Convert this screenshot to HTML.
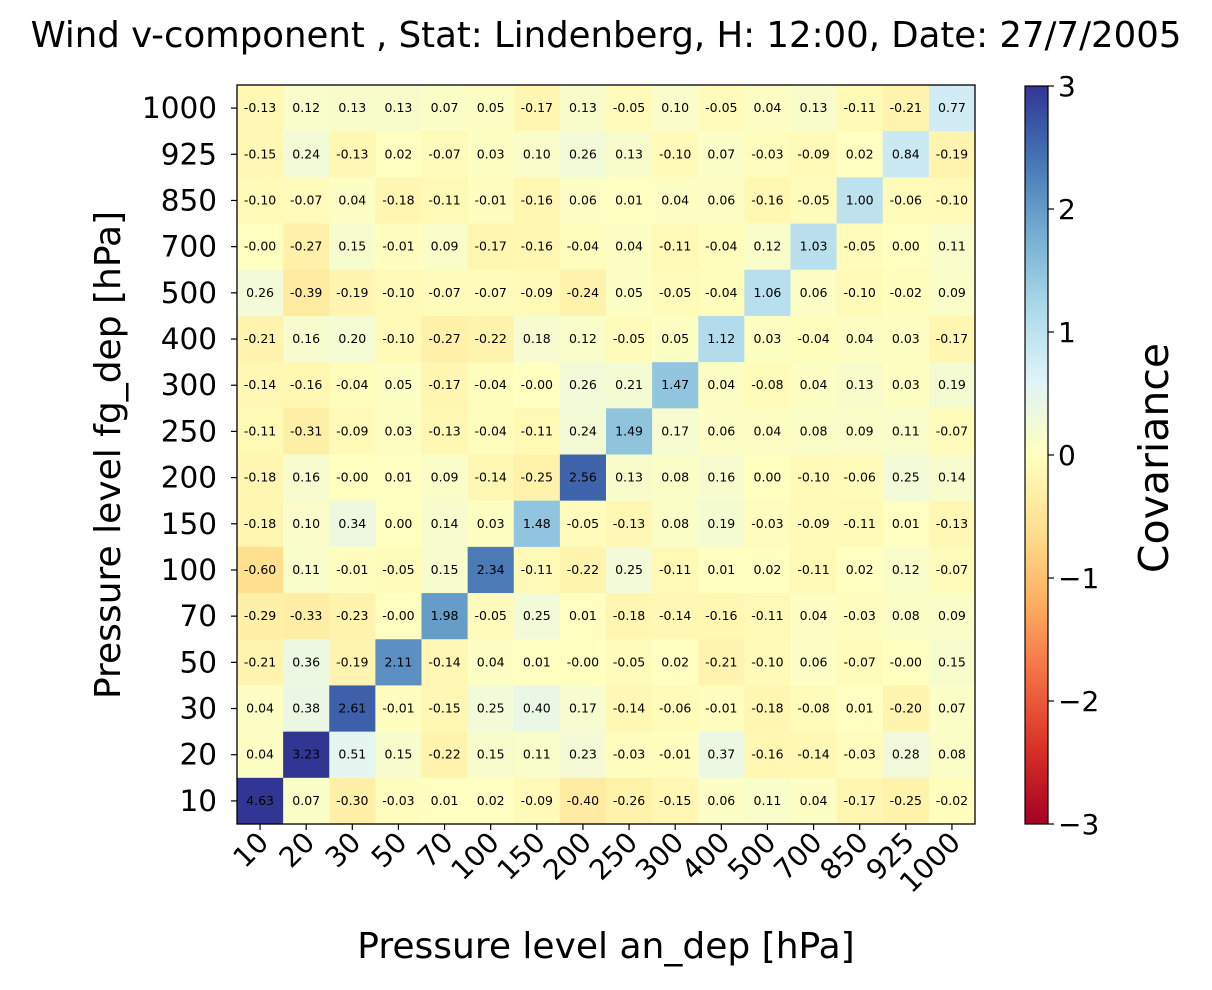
<!DOCTYPE html>
<html><head><meta charset="utf-8"><style>
body{margin:0;background:#fff;}
svg text{font-family:"DejaVu Sans","Liberation Sans",sans-serif;}
</style></head><body>
<svg id="c" width="1212" height="985" xmlns="http://www.w3.org/2000/svg">
<text x="606" y="47" text-anchor="middle" font-size="35.5">Wind v-component , Stat: Lindenberg, H: 12:00, Date: 27/7/2005</text>
<g id="cells"></g>
<rect x="237" y="85" width="738" height="739" fill="none" stroke="#000" stroke-width="1.3"/>
<g id="axes"></g>
<text x="606" y="958" text-anchor="middle" font-size="36">Pressure level an_dep [hPa]</text>
<text transform="translate(120,455) rotate(-90)" text-anchor="middle" font-size="36">Pressure level fg_dep [hPa]</text>
<defs><linearGradient id="cg" x1="0" y1="1" x2="0" y2="0"></linearGradient></defs>
<rect x="1025" y="86" width="23" height="738" fill="url(#cg)" stroke="#000" stroke-width="1.2"/>
<g id="cbticks"></g>
<text transform="translate(1168,458) rotate(-90)" text-anchor="middle" font-size="41">Covariance</text>
</svg>
<script>
const xLabels=["10","20","30","50","70","100","150","200","250","300","400","500","700","850","925","1000"];
const yLabels=["1000","925","850","700","500","400","300","250","200","150","100","70","50","30","20","10"];
const cbTicks=[-3,-2,-1,0,1,2,3];
const row1000=[-0.13,0.12,0.13,0.13,0.07,0.05,-0.17,0.13,-0.05,0.10,-0.05,0.04,0.13,-0.11,-0.21,0.77];
const row925=[-0.15,0.24,-0.13,0.02,-0.07,0.03,0.10,0.26,0.13,-0.10,0.07,-0.03,-0.09,0.02,0.84,-0.19];
const row850=[-0.10,-0.07,0.04,-0.18,-0.11,-0.01,-0.16,0.06,0.01,0.04,0.06,-0.16,-0.05,1.00,-0.06,-0.10];
const row700=[-0.001,-0.27,0.15,-0.01,0.09,-0.17,-0.16,-0.04,0.04,-0.11,-0.04,0.12,1.03,-0.05,0.00,0.11];
const row500=[0.26,-0.39,-0.19,-0.10,-0.07,-0.07,-0.09,-0.24,0.05,-0.05,-0.04,1.06,0.06,-0.10,-0.02,0.09];
const row400=[-0.21,0.16,0.20,-0.10,-0.27,-0.22,0.18,0.12,-0.05,0.05,1.12,0.03,-0.04,0.04,0.03,-0.17];
const row300=[-0.14,-0.16,-0.04,0.05,-0.17,-0.04,-0.001,0.26,0.21,1.47,0.04,-0.08,0.04,0.13,0.03,0.19];
const row250=[-0.11,-0.31,-0.09,0.03,-0.13,-0.04,-0.11,0.24,1.49,0.17,0.06,0.04,0.08,0.09,0.11,-0.07];
const row200=[-0.18,0.16,-0.001,0.01,0.09,-0.14,-0.25,2.56,0.13,0.08,0.16,0.00,-0.10,-0.06,0.25,0.14];
const row150=[-0.18,0.10,0.34,0.00,0.14,0.03,1.48,-0.05,-0.13,0.08,0.19,-0.03,-0.09,-0.11,0.01,-0.13];
const row100=[-0.60,0.11,-0.01,-0.05,0.15,2.34,-0.11,-0.22,0.25,-0.11,0.01,0.02,-0.11,0.02,0.12,-0.07];
const row70=[-0.29,-0.33,-0.23,-0.001,1.98,-0.05,0.25,0.01,-0.18,-0.14,-0.16,-0.11,0.04,-0.03,0.08,0.09];
const row50=[-0.21,0.36,-0.19,2.11,-0.14,0.04,0.01,-0.001,-0.05,0.02,-0.21,-0.10,0.06,-0.07,-0.001,0.15];
const row30=[0.04,0.38,2.61,-0.01,-0.15,0.25,0.40,0.17,-0.14,-0.06,-0.01,-0.18,-0.08,0.01,-0.20,0.07];
const row20=[0.04,3.23,0.51,0.15,-0.22,0.15,0.11,0.23,-0.03,-0.01,0.37,-0.16,-0.14,-0.03,0.28,0.08];
const row10=[4.63,0.07,-0.30,-0.03,0.01,0.02,-0.09,-0.40,-0.26,-0.15,0.06,0.11,0.04,-0.17,-0.25,-0.02];
const matrix=[row1000,row925,row850,row700,row500,row400,row300,row250,row200,row150,row100,row70,row50,row30,row20,row10];

const NS="http://www.w3.org/2000/svg";
const X0=237,X1=975,Y0=85,Y1=824,vmin=-3,vmax=3;
const cw=(X1-X0)/xLabels.length, ch=(Y1-Y0)/yLabels.length;
const xPos=i=>X0+i*cw, yPos=j=>Y0+j*ch;
const stops=["#a50026","#d73027","#f46d43","#fdae61","#fee090","#ffffbf","#e0f3f8","#abd9e9","#74add1","#4575b4","#313695"];
function hx(c){return [1,3,5].map(k=>parseInt(c.substr(k,2),16));}
function cmap(v){let t=(v-vmin)/(vmax-vmin);t=Math.max(0,Math.min(1,t));const s=t*10,i=Math.min(9,Math.floor(s)),f=s-i;
const a=hx(stops[i]),b=hx(stops[i+1]);return "rgb("+a.map((x,k)=>Math.round(x+(b[k]-x)*f)).join(",")+")";}
function fmt(v){const s=v.toFixed(2);return (v<0&&s==="0.00")?"-0.00":s;}
function el(t,a,p){const e=document.createElementNS(NS,t);for(const k in a)e.setAttribute(k,a[k]);p.appendChild(e);return e;}
const cells=document.getElementById("cells");
matrix.forEach((row,j)=>row.forEach((v,i)=>{
 const r=el("rect",{x:xPos(i),y:yPos(j),width:cw+0.5,height:ch+0.5,fill:cmap(v)},cells);
 
 
 const t=el("text",{x:xPos(i)+cw/2,y:yPos(j)+ch/2+4,"text-anchor":"middle","font-size":"12.5"},cells);
 t.textContent=fmt(v);
 
 
}));
const ax=document.getElementById("axes");
xLabels.forEach((l,i)=>{
 const cx=xPos(i)+cw/2;
 el("line",{x1:cx,y1:Y1,x2:cx,y2:Y1+6,stroke:"#000","stroke-width":1.2},ax);
 const t=el("text",{transform:`translate(${cx+10},${Y1+20}) rotate(-45)`,"text-anchor":"end","font-size":"28"},ax);
 t.textContent=l;
 
 
});
yLabels.forEach((l,j)=>{
 const cy=yPos(j)+ch/2;
 el("line",{x1:X0-6,y1:cy,x2:X0,y2:cy,stroke:"#000","stroke-width":1.2},ax);
 const t=el("text",{x:X0-20,y:cy+10,"text-anchor":"end","font-size":"29.5"},ax);
 t.textContent=l;
 
 
});
const g=document.getElementById("cg");
stops.forEach((s,k)=>el("stop",{offset:(k/10),"stop-color":s},g));
const cb=document.getElementById("cbticks");
const CB0=86,CB1=824;
cbTicks.forEach(v=>{
 const y=CB1-(v-vmin)/(vmax-vmin)*(CB1-CB0);
 el("line",{x1:1048,y1:y,x2:1054,y2:y,stroke:"#000","stroke-width":1.2},cb);
 const t=el("text",{x:1058,y:y+10,"font-size":"28"},cb);
 t.textContent=v<0?"\u2212"+(-v):String(v);
 
 
});
</script>
</body></html>
